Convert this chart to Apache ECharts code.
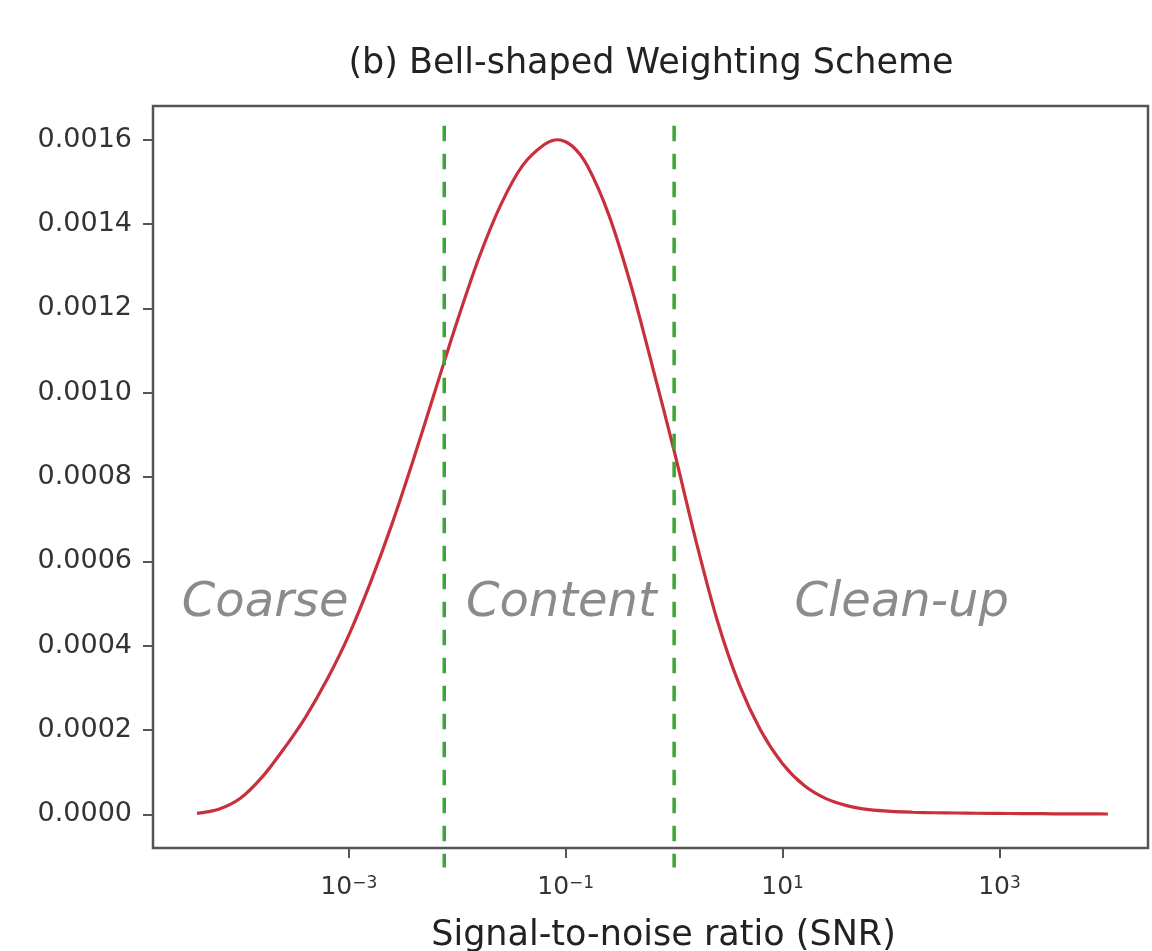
<!DOCTYPE html>
<html><head><meta charset="utf-8">
<script src="https://cdn.jsdelivr.net/npm/echarts@6/dist/echarts.min.js"></script>
<style>html,body{margin:0;padding:0;background:#fff}#c{width:1152px;height:951px}</style>
</head><body><div id="c"></div>
<script>
// log10(SNR) positions and weight values
const logSnr = [-4.4, -4.2, -4.0, -3.8, -3.6, -3.4, -3.2, -3.0, -2.8, -2.6, -2.4, -2.2, -2.0, -1.8, -1.6, -1.4, -1.2, -1.07, -0.94, -0.8, -0.6, -0.4, -0.2, 0.0, 0.2, 0.4, 0.6, 0.8, 1.0, 1.2, 1.4, 1.6, 1.8, 2.0, 2.2, 2.4, 2.6, 2.8, 3.0, 3.2, 3.4, 3.6, 3.8, 4.0];
const weight = [0.000002, 0.000012, 0.000038, 0.000088, 0.000155, 0.000230, 0.000320, 0.000425, 0.000550, 0.000690, 0.000845, 0.001008, 0.001170, 0.001320, 0.001445, 0.001538, 0.001588, 0.001600, 0.001585, 0.001538, 0.001420, 0.001256, 0.001062, 0.000862, 0.000650, 0.000458, 0.000308, 0.000198, 0.000120, 0.000068, 0.000037, 0.000020, 0.000011, 0.0000068, 0.0000048, 0.0000036, 0.0000030, 0.0000024, 0.0000020, 0.0000016, 0.0000013, 0.0000010, 0.0000008, 0.0000006];
const xTickExponents = [-3, -1, 1, 3];
const yTickValues = [0, 0.0002, 0.0004, 0.0006, 0.0008, 0.0010, 0.0012, 0.0014, 0.0016];
const boundaryLogSnr = [-2.12, 0.0];
const boundarySpan = [0.001633, -0.000126];
const regionNames = ['Coarse', 'Content', 'Clean-up'];
const regionLogSnr = [-4.54, -1.92, 1.11];
const regionWeight = [0.0005, 0.0005, 0.0005];
const titleText = '(b) Bell-shaped Weighting Scheme';
const xTitle = 'Signal-to-noise ratio (SNR)';

const FONT = 'DejaVu Sans';
const chart = echarts.init(document.getElementById('c'), null, {renderer: 'canvas'});
const curve = logSnr.map((x, i) => [x, weight[i]]);
const boundarySeries = boundaryLogSnr.map(x => ({
  type: 'line', data: [[x, boundarySpan[0]], [x, boundarySpan[1]]], clip: false, silent: true,
  showSymbol: false, symbol: 'none', z: 5,
  lineStyle: {color: '#3fa535', width: 3.5, type: [15.5, 12.5]}
}));
function pow10Label(e) { return '{b|10}{s|' + String(e).replace('-', '\u2212') + '}'; }
chart.setOption({
  animation: false,
  backgroundColor: '#fff',
  grid: {left: 153, top: 106, width: 995, height: 742, outerBoundsMode: 'none', containLabel: false,
         show: true, borderColor: '#555', borderWidth: 2.5, backgroundColor: 'transparent'},
  graphic: [{type: 'text', x: 651, y: 46, style: {text: titleText, font: '35px "DejaVu Sans"', fill: '#222', textAlign: 'center', textVerticalAlign: 'top'}}],
  xAxis: {
    type: 'value', min: -4.806, max: 4.37,
    axisLine: {show: false, onZero: false},
    splitLine: {show: false},
    axisTick: {show: true, length: 10, lineStyle: {color: '#555', width: 2}, customValues: xTickExponents},
    axisLabel: {customValues: xTickExponents, formatter: v => pow10Label(Math.round(v)), margin: 27,
      rich: {b: {fontFamily: FONT, fontSize: 25, color: '#333', verticalAlign: 'bottom'},
             s: {fontFamily: FONT, fontSize: 17, color: '#333', verticalAlign: 'top'}}},
    name: xTitle, nameLocation: 'middle', nameGap: 70,
    nameTextStyle: {fontFamily: FONT, fontSize: 35, color: '#222', padding: [0, 0, 0, 26]}
  },
  yAxis: {
    type: 'value', min: -0.00008, max: 0.00168,
    axisLine: {show: false, onZero: false},
    splitLine: {show: false},
    axisTick: {show: true, length: 10, lineStyle: {color: '#555', width: 2}, customValues: yTickValues},
    axisLabel: {customValues: yTickValues, formatter: v => v.toFixed(4), fontFamily: FONT, fontSize: 27, color: '#333', margin: 21}
  },
  series: [
    {type: 'line', data: curve, smooth: 0.3, showSymbol: false, symbol: 'none', silent: true, z: 3,
     lineStyle: {color: '#c8303c', width: 3.2}},
    ...boundarySeries,
    {type: 'scatter', silent: true, symbolSize: 0, z: 6,
     data: regionNames.map((n, i) => ({value: [regionLogSnr[i], regionWeight[i]], name: n})),
     label: {show: true, position: [0, 0], align: 'left', verticalAlign: 'middle', formatter: p => p.name,
       fontFamily: FONT, fontStyle: 'italic', fontSize: 48, color: '#6e6e6e'}}
  ]
});
</script></body></html>
